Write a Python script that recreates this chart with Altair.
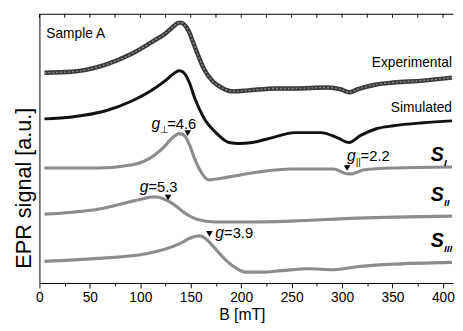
import altair as alt
import pandas as pd

FONT = "Liberation Sans, Arial, sans-serif"

# ---- data (B in mT, signal in arbitrary units) ----
B_exp = [5, 32, 65, 91, 114, 125, 130, 134, 137, 140, 143, 146, 149, 152, 156, 163, 172, 182, 192, 207, 234, 253, 285, 299, 307, 315, 334, 351, 380, 409]
Y_exp = [214, 215, 222, 233, 247, 254, 258.5, 262, 264.5, 265, 263.5, 260, 254, 246, 235, 218, 205, 198, 195, 196, 198, 198, 199, 197, 194, 197, 202, 204, 206, 209]

B_sim = [5, 32, 65, 91, 114, 126, 131, 135, 138.5, 142, 145, 149, 154, 163, 175, 188, 198, 211, 231, 253, 279, 295, 307, 318, 334, 351, 380, 409]
Y_sim = [167, 169, 175, 185, 198, 207, 211.5, 214.5, 216, 215, 211.5, 203, 188, 168, 153, 143, 142, 143, 148, 153, 153, 148, 143, 150, 157, 160, 163, 165]

B_s1 = [5, 58, 91, 114, 124, 130, 134.5, 138, 141.5, 145, 149, 154, 159, 168, 188, 217, 250, 292, 305, 310, 321, 351, 409]
Y_s1 = [117, 117, 120, 130, 139, 146, 150, 152, 151.5, 148.5, 140, 126, 115, 105, 108, 113, 116, 116, 111, 111, 115, 117, 118]

B_s2 = [5, 32, 58, 91, 104, 111, 116, 122, 130, 137, 143, 151, 159, 175, 200, 250, 315, 409]
Y_s2 = [70, 72, 75, 83, 86, 87.5, 87.5, 86, 82, 77, 72, 67, 64, 62, 62, 63, 66, 68]

B_s3 = [5, 58, 107, 139, 149, 155, 159, 163, 168, 175, 185, 195, 204, 220, 240, 266, 292, 315, 348, 409]
Y_s3 = [22, 25, 30, 40, 45.5, 47.5, 48, 46.5, 42, 34, 23, 15, 11, 11, 12.5, 14.5, 13.5, 16.5, 19, 21]

MAJOR = [0, 50, 100, 150, 200, 250, 300, 350, 400]
MINOR = [25, 75, 125, 175, 225, 275, 325, 375]
ALL_TICKS = sorted(MAJOR + MINOR)

# g-value markers (position of arrow) and label anchors
tri_B = [147, 305, 127.5, 168.5]
tri_Y = [152.5, 117, 87, 50]

g_B = [119.8, 313.5, 108, 183]
g_Y = [161.5, 129, 98, 51]
g_sub = ["⊥", "||", "", ""]
g_val = ["=4.6", "=2.2", "=5.3", "=3.9"]
g_dx = [7, 5, 0, 0]

# series labels
name_txt = ["Sample A", "Experimental", "Simulated"]
name_B = [6.8, 409, 409]
name_Y = [253, 224, 178]
name_align = ["left", "right", "right"]

S_B = [401, 401, 401]
S_Y = [130, 89, 43]
S_sub = ["I", "II", "III"]

# ---- scales ----
xs = alt.Scale(domain=[0, 410], nice=False, zero=False)
ys = alt.Scale(domain=[0, 274], nice=False, zero=False)


def cdf(b, y):
    return pd.DataFrame({"B": b, "S": y})


y_axis = alt.Axis(ticks=False, labels=False, domain=True, grid=False,
                  title="EPR signal [a.u.]", titleFont=FONT, titleFontSize=22,
                  titleFontWeight="normal", titleX=-16, titleY=177,
                  titleBaseline="middle", titleAlign="center", titleColor="black")
x_axis = alt.Axis(values=MAJOR, tickSize=5, labelPadding=3, grid=False,
                  title="B [mT]", titleFont=FONT, titleFontSize=16,
                  titleFontWeight="normal", titleX=206, titleY=24,
                  titleBaseline="top", titleAlign="center", titleColor="black",
                  labelFont=FONT, labelFontSize=14, labelFlush=False, labelColor="black")


def line(df, color, width, xaxis=None, yaxis=None, dash=None):
    kw = dict(color=color, strokeWidth=width, interpolate="monotone")
    if dash is not None:
        kw["strokeDash"] = dash
    return alt.Chart(df).mark_line(**kw).encode(
        x=alt.X("B:Q", scale=xs, axis=xaxis),
        y=alt.Y("S:Q", scale=ys, axis=yaxis),
    )


exp_outer = line(cdf(B_exp, Y_exp), "#3a3a3a", 4.5, xaxis=x_axis, yaxis=y_axis)
exp_inner = line(cdf(B_exp, Y_exp), "#8a8a8a", 1.4, dash=[2, 2])
sim = line(cdf(B_sim, Y_sim), "#111111", 3)
s1 = line(cdf(B_s1, Y_s1), "#8c8c8c", 3.2)
s2 = line(cdf(B_s2, Y_s2), "#8c8c8c", 3.2)
s3 = line(cdf(B_s3, Y_s3), "#8c8c8c", 3.2)

# ticks: bottom minor axis, top inward ticks
ticks_df = pd.DataFrame({"B": ALL_TICKS})
minor_axis = alt.Chart(pd.DataFrame({"B": MINOR})).mark_tick(opacity=0).encode(
    x=alt.X("B:Q", scale=xs, axis=alt.Axis(values=MINOR, tickSize=3, labels=False,
                                          domain=False, grid=False, title=None,
                                          orient="bottom")),
)
top_ticks = alt.Chart(ticks_df).mark_rule(color="black", strokeWidth=1).encode(
    x=alt.X("B:Q", scale=xs, axis=alt.Axis(orient="top", ticks=False, labels=False,
                                          domain=True, grid=False, title=None)),
    y=alt.value(0), y2=alt.value(4),
)

# triangles
tri = alt.Chart(pd.DataFrame({"B": tri_B, "S": tri_Y})).mark_point(
    shape="triangle-down", filled=True, color="black", size=45, opacity=1).encode(
    x=alt.X("B:Q", scale=xs, axis=None), y=alt.Y("S:Q", scale=ys, axis=None))

gdf = pd.DataFrame({"B": g_B, "S": g_Y, "sub": g_sub, "val": g_val, "dx": g_dx})
g_letter = alt.Chart(gdf).mark_text(text="g", align="right", baseline="middle",
                                    font=FONT, fontSize=16, fontStyle="italic",
                                    color="black").encode(
    x=alt.X("B:Q", scale=xs, axis=None), y=alt.Y("S:Q", scale=ys, axis=None))
g_subm = alt.Chart(gdf).mark_text(align="left", baseline="middle", dy=6,
                                  font=FONT, fontSize=10, color="black").encode(
    x=alt.X("B:Q", scale=xs, axis=None), y=alt.Y("S:Q", scale=ys, axis=None),
    text="sub:N")
g_vals = []
for i in range(len(g_B)):
    g_vals.append(alt.Chart(gdf.iloc[[i]]).mark_text(
        align="left", baseline="middle", dx=int(g_dx[i]),
        font=FONT, fontSize=15, color="black").encode(
        x=alt.X("B:Q", scale=xs, axis=None), y=alt.Y("S:Q", scale=ys, axis=None),
        text="val:N"))

names = []
for t, b, y, a in zip(name_txt, name_B, name_Y, name_align):
    names.append(alt.Chart(pd.DataFrame({"B": [b], "S": [y], "t": [t]})).mark_text(
        align=a, baseline="middle", font=FONT, fontSize=14, color="black").encode(
        x=alt.X("B:Q", scale=xs, axis=None), y=alt.Y("S:Q", scale=ys, axis=None),
        text="t:N"))

sdf = pd.DataFrame({"B": S_B, "S": S_Y, "sub": S_sub})
s_big = alt.Chart(sdf).mark_text(text="S", align="right", baseline="middle",
                                 font=FONT, fontSize=20, fontStyle="italic",
                                 fontWeight="bold", color="black").encode(
    x=alt.X("B:Q", scale=xs, axis=None), y=alt.Y("S:Q", scale=ys, axis=None))
s_small = alt.Chart(sdf).mark_text(align="left", baseline="middle", dy=8, dx=0,
                                   font=FONT, fontSize=10, fontStyle="italic",
                                   fontWeight="bold", color="black").encode(
    x=alt.X("B:Q", scale=xs, axis=None), y=alt.Y("S:Q", scale=ys, axis=None),
    text="sub:N")

chart = alt.layer(
    exp_outer, minor_axis, top_ticks, exp_inner, sim, s1, s2, s3, tri,
    g_letter, g_subm, *g_vals, *names, s_big, s_small
).resolve_axis(x="independent", y="independent").properties(
    width=421, height=274,
    padding={"left": 32, "top": 3, "right": 2, "bottom": 45},
    autosize=alt.AutoSizeParams(type="none"),
).configure_view(strokeWidth=0).configure_axis(
    domainColor="black", tickColor="black", domainWidth=1, tickWidth=1
)

chart.save("out.html", embed_options={"renderer": "svg", "actions": False})
